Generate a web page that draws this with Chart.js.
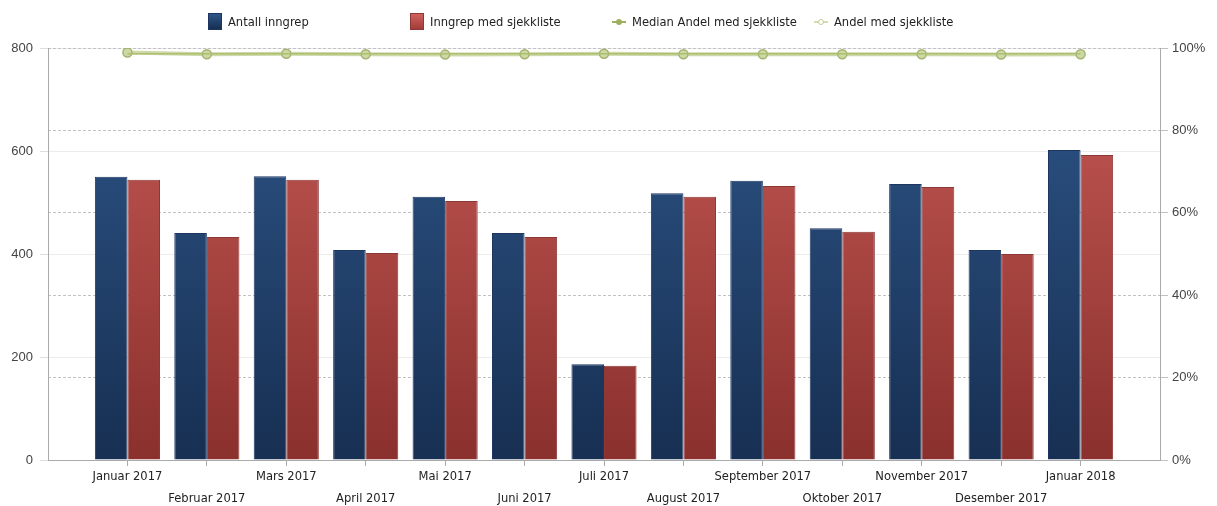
<!DOCTYPE html>
<html>
<head>
<meta charset="utf-8">
<script src="https://cdn.jsdelivr.net/npm/chart.js@4.4.1/dist/chart.umd.min.js"></script>
<style>
  html, body { margin: 0; padding: 0; background: #fff; }
  #wrap { position: relative; width: 1217px; height: 506px; }
  #legend { position: absolute; left: 0; top: 12px; width: 1217px; height: 20px;
            font: 12.8px "DejaVu Sans Condensed", "DejaVu Sans", sans-serif; color: #222; }
  .item { position: absolute; top: 0; display: flex; align-items: center; height: 18px; white-space: nowrap; }
  .box { width: 14px; height: 17px; margin-right: 6px; box-sizing: border-box; }
  .mark { position: relative; width: 14px; height: 17px; margin-right: 6px; }
  .mark i { position: absolute; left: 0; right: 0; top: 8px; height: 2px; }
  .mark b { position: absolute; left: 4px; top: 6px; width: 6px; height: 6px; border-radius: 50%; box-sizing: border-box; }
</style>
</head>
<body>
<div id="wrap">
  <canvas id="chart" width="1217" height="506"></canvas>
  <div id="legend"></div>
</div>
<script>
var months = ["Januar 2017", "Februar 2017", "Mars 2017", "April 2017", "Mai 2017", "Juni 2017",
              "Juli 2017", "August 2017", "September 2017", "Oktober 2017", "November 2017",
              "Desember 2017", "Januar 2018"];
var antall = [550, 441, 551, 408, 511, 441, 186, 518, 542, 450, 536, 408, 602];
var medSjekk = [544, 433, 544, 402, 503, 433, 183, 511, 532, 443, 530, 400, 592];
var median = [98.6, 98.6, 98.6, 98.6, 98.6, 98.6, 98.6, 98.6, 98.6, 98.6, 98.6, 98.6, 98.6];
var andel = [98.9, 98.5, 98.6, 98.5, 98.4, 98.5, 98.6, 98.5, 98.5, 98.5, 98.5, 98.4, 98.5];
var leftTicks = [0, 200, 400, 600, 800];
var rightTicks = [0, 20, 40, 60, 80, 100];

function grad(top, bottom) {
  return function (c) {
    var area = c.chart.chartArea;
    if (!area) return top;
    var g = c.chart.ctx.createLinearGradient(0, area.top, 0, area.bottom);
    g.addColorStop(0, top);
    g.addColorStop(1, bottom);
    return g;
  };
}

var tickFont = { family: "'Liberation Sans', Arial, sans-serif", size: 13 };
var xFont = { family: "'DejaVu Sans Condensed', 'DejaVu Sans', sans-serif", size: 12.8, lineHeight: 1.7 };

var chart = new Chart(document.getElementById("chart"), {
  type: 'bar',
  data: {
    labels: months,
    datasets: [
      {
        label: "Antall inngrep",
        data: antall,
        backgroundColor: grad("#2e5689", "#172f52"),
        borderColor: "#1c3660",
        borderWidth: 1,
        yAxisID: 'y',
        order: 3
      },
      {
        label: "Inngrep med sjekkliste",
        data: medSjekk,
        backgroundColor: grad("#c65a56", "#8a302d"),
        borderColor: "#8c3835",
        borderWidth: 1,
        yAxisID: 'y',
        order: 3
      },
      {
        type: 'line',
        label: "Median Andel med sjekkliste",
        data: median,
        borderColor: "#aebf72",
        borderWidth: 1.5,
        pointRadius: 0,
        yAxisID: 'y1',
        order: 1
      },
      {
        type: 'line',
        label: "Andel med sjekkliste",
        data: andel,
        borderColor: "rgba(200,213,158,0.9)",
        borderWidth: 4,
        pointRadius: 4.5,
        pointBackgroundColor: "#cdd8a4",
        pointBorderColor: "#a3b36f",
        pointBorderWidth: 1.5,
        yAxisID: 'y1',
        order: 2
      }
    ]
  },
  options: {
    responsive: false,
    animation: false,
    layout: { padding: { top: 48, left: 0, right: 0, bottom: 0 } },
    plugins: { legend: { display: false }, tooltip: { enabled: false } },
    datasets: { bar: { categoryPercentage: 0.82, barPercentage: 1.0 } },
    scales: {
      x: {
        offset: true,
        // one extra half category of room on each side, like the original
        afterBuildTicks: function (ax) {
          ax._startValue = -1;
          ax._valueRange = months.length + 1;
        },
        afterFit: function (ax) { ax.height = 46; },
        grid: { offset: false, drawOnChartArea: false, color: "#aaa", tickLength: 6 },
        border: { color: "#aaa" },
        ticks: {
          autoSkip: false, maxRotation: 0, color: "#222", font: xFont, padding: 0,
          callback: function (v, i) {
            return i % 2 === 0 ? [months[i], ""] : ["", months[i]];
          }
        }
      },
      y: {
        position: 'left',
        min: 0, max: 800,
        afterFit: function (ax) { ax.width = 48; },
        afterBuildTicks: function (ax) { ax.ticks = leftTicks.map(function (v) { return { value: v }; }); },
        grid: { color: "#ececec", tickLength: 8, tickColor: "#ddd" },
        border: { color: "#aaa" },
        ticks: { color: "#444", font: tickFont, padding: 7 }
      },
      y1: {
        position: 'right',
        min: 0, max: 100,
        afterFit: function (ax) { ax.width = 57; },
        afterBuildTicks: function (ax) { ax.ticks = rightTicks.map(function (v) { return { value: v }; }); },
        grid: { color: "#c2c2c2", tickLength: 8, tickColor: "#c2c2c2" },
        border: { color: "#aaa", dash: [3, 2] },
        ticks: { color: "#444", font: tickFont, padding: 4, callback: function (v) { return v + "%"; } }
      }
    }
  }
});

// html legend
var legendX = [208, 410, 612, 814];
var legendEl = document.getElementById("legend");
var swatches = [
  '<div class="box" style="background:linear-gradient(#2e5689,#172f52);border:1px solid #1c3660"></div>',
  '<div class="box" style="background:linear-gradient(#d0625d,#a23c38);border:1px solid #8c3835"></div>',
  '<div class="mark"><i style="background:#9fb05c"></i><b style="background:#9fb05c"></b></div>',
  '<div class="mark"><i style="background:#d3dcb2"></i><b style="background:#fff;border:1.5px solid #c2cf95"></b></div>'
];
chart.data.datasets.forEach(function (ds, i) {
  var d = document.createElement("div");
  d.className = "item";
  d.style.left = legendX[i] + "px";
  d.innerHTML = swatches[i] + '<span>' + ds.label + '</span>';
  legendEl.appendChild(d);
});
</script>
</body>
</html>
